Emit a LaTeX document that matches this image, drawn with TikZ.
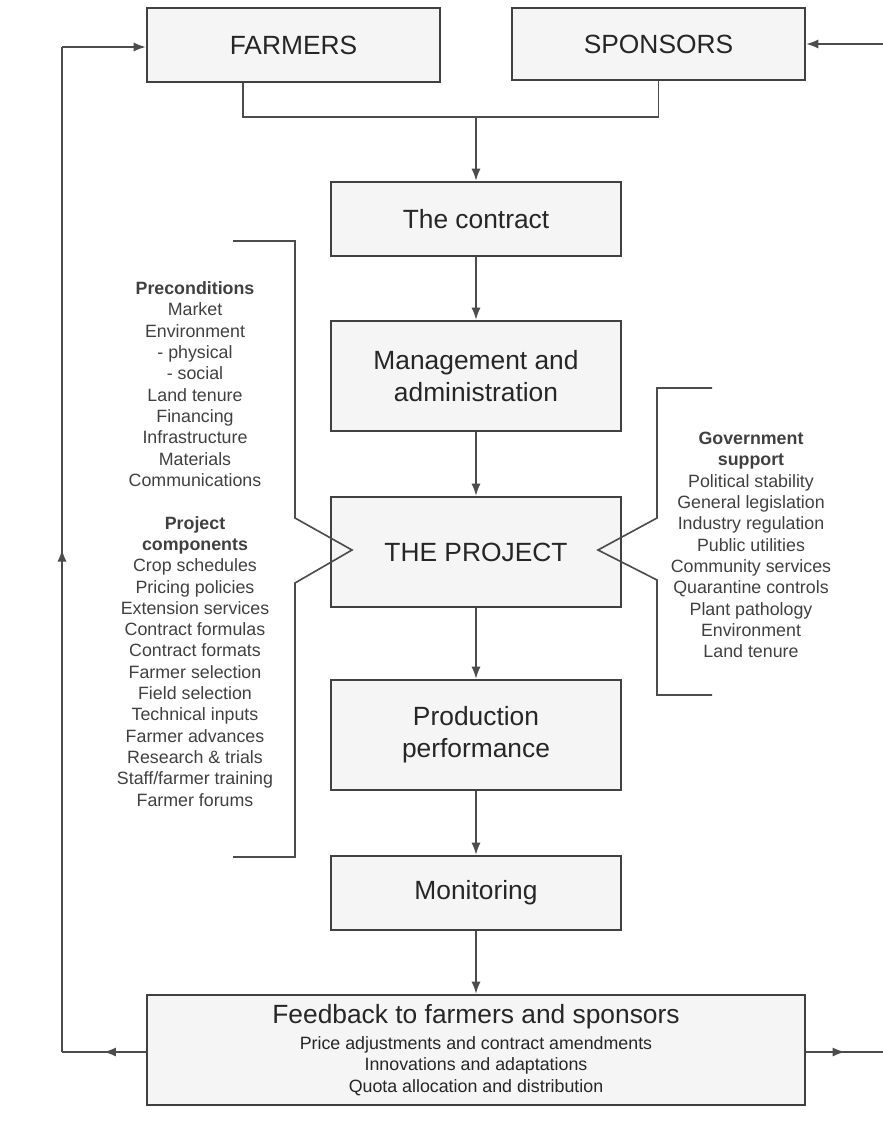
\documentclass[tikz,border=0pt]{standalone}
\usepackage{fontspec}
\setmainfont{Liberation Sans}
\usetikzlibrary{arrows.meta, decorations.markings}

\newcommand{\boxfont}{\fontsize{22.5}{27.2}\selectfont}
\newcommand{\listfont}{\fontsize{15.2}{18.2}\selectfont}

\tikzset{
    box/.style={draw=black!75, line width=2.2pt, fill=black!4, text=black!85,
        font=\boxfont, align=center},
    conn/.style={draw=black!70, line width=1.2pt},
    brace/.style={draw=black!70, line width=1.4pt},
    listtext/.style={font=\listfont, text=black!75, align=center},
    midarrow/.style={postaction={decorate},
        decoration={markings, mark=at position 0.5 with {\arrow{>}}}}
}

\begin{document}
\begin{tikzpicture}[x=0.3mm, y=-0.3mm, >={Latex[length=3.6mm,width=2.7mm]}]
    % параметры
    \def\BW{87mm}      % ширина блоков
    \def\HS{22.2mm}    % низкий блок
    \def\HT{33mm}      % высокий блок

    \useasboundingbox (0,0) rectangle (883,1135);

    % верхние блоки
    \node[box, minimum width=87.9mm, minimum height=\HS] (farmers) at (293.5,45) {FARMERS};
    \node[box, minimum width=87.9mm, minimum height=21.6mm] (sponsors) at (658.5,44) {SPONSORS};

    % основная цепочка
    \node[box, minimum width=\BW, minimum height=\HS] (contract) at (476,219) {The contract};
    \node[box, minimum width=\BW, minimum height=\HT] (manage) at (476,376) {Management and\\administration};
    \node[box, minimum width=\BW, minimum height=\HT] (project) at (476,552) {THE PROJECT};
    \node[box, minimum width=\BW, minimum height=\HT] (production) at (476,735) {Production\\performance};
    \node[box, minimum width=\BW, minimum height=\HS] (monitoring) at (476,893) {Monitoring};
    \node[box, minimum width=197.4mm, minimum height=\HT] (feedback) at (476,1050)
        {Feedback to farmers and sponsors\\[-5pt]
         {\listfont Price adjustments and contract amendments}\\[-9pt]
         {\listfont Innovations and adaptations}\\[-9pt]
         {\listfont Quota allocation and distribution}};

    % вход в контракт
    \coordinate (join) at (476,117);
    \draw[conn] ([xshift=-15.15mm]farmers.south) |- (join) -| (sponsors.south);
    \draw[conn, ->] (join) -- (contract);

    % стрелки вниз
    \draw[conn, ->] (contract) -- (manage);
    \draw[conn, ->] (manage) -- (project);
    \draw[conn, ->] (project) -- (production);
    \draw[conn, ->] (production) -- (monitoring);
    \draw[conn, ->] (monitoring) -- (feedback);

    % обратная связь слева
    \coordinate (lbot) at (62,1052);
    \coordinate (ltop) at (62,47);
    \draw[conn, midarrow] (feedback.west |- lbot) -- (lbot);
    \draw[conn, midarrow] (lbot) -- (ltop);
    \draw[conn, ->] (ltop) -- (ltop -| farmers.west);

    % обратная связь справа
    \coordinate (rbot) at (883,1052);
    \coordinate (rtop) at (883,44);
    \draw[conn, midarrow] (feedback.east |- rbot) -- (rbot);
    \draw[conn, ->] (rtop) -- (sponsors.east);

    % скобки
    \draw[brace] (233,241) -- (295,241) -- (295,518) -- (352,550)
        -- (295,583) -- (295,857) -- (233,857);
    \draw[brace] (712,388) -- (657,388) -- (657,518) -- (598,550)
        -- (657,580) -- (657,695) -- (712,695);

    % списки
    \node[listtext] (precond) at (195,544) {\textbf{Preconditions}\\Market\\Environment\\- physical\\- social\\
        Land tenure\\Financing\\Infrastructure\\Materials\\Communications\\[18.2pt]
        \textbf{Project}\\\textbf{components}\\Crop schedules\\Pricing policies\\Extension services\\
        Contract formulas\\Contract formats\\Farmer selection\\Field selection\\Technical inputs\\
        Farmer advances\\Research \& trials\\Staff/farmer training\\Farmer forums};
    \node[listtext] (govern) at (751,545) {\textbf{Government}\\\textbf{support}\\Political stability\\
        General legislation\\Industry regulation\\Public utilities\\Community services\\
        Quarantine controls\\Plant pathology\\Environment\\Land tenure};
\end{tikzpicture}
\end{document}
